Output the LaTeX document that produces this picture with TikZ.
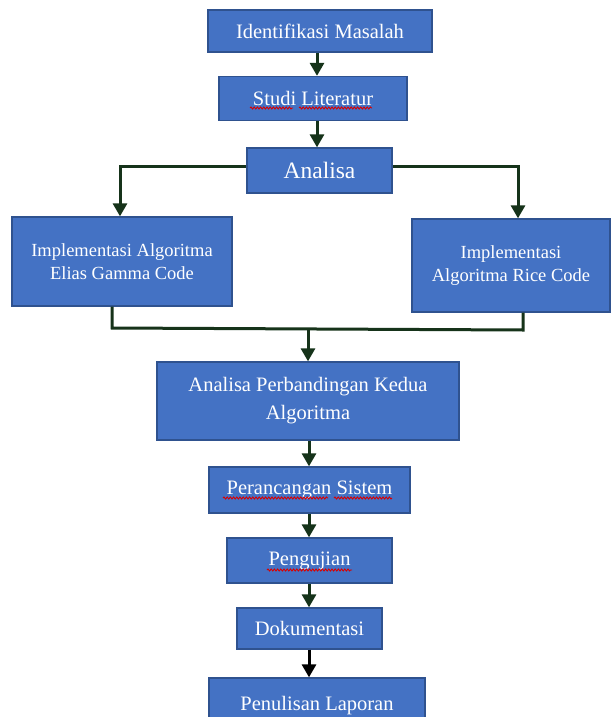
\documentclass[tikz,border=0pt]{standalone}
\usepackage{fontspec}
\setmainfont{Liberation Serif}
\usetikzlibrary{arrows.meta,decorations.pathmorphing}
\definecolor{boxfill}{HTML}{4472C4}
\definecolor{boxline}{HTML}{2F528F}
\definecolor{arrgreen}{HTML}{16331A}
\tikzset{
  box/.style={draw=boxline, line width=1.3pt, fill=boxfill, text=white, align=center, inner sep=0pt, font=\fontsize{20.5}{24}\selectfont},
  arr/.style={draw=arrgreen, line width=3pt, -{Triangle[width=14pt,length=13pt]}},
  conn/.style={draw=arrgreen, line width=3pt},
  squig/.style={draw=red!85!black, line width=0.9pt, decorate, decoration={snake, amplitude=1pt, segment length=3.2pt}}
}
\begin{document}
\begin{tikzpicture}[x=1pt,y=-1pt]
\useasboundingbox (0,0) rectangle (612,717);
\clip (0,0) rectangle (612,717);
\fill[white] (0,0) rectangle (612,717);
\node[box, minimum width=224pt, minimum height=42pt] (ident) at (320,31) {Identifikasi Masalah};
\node[box, minimum width=188pt, minimum height=44pt] (studi) at (313,98.5) {Studi Literatur};
\node[box, minimum width=145pt, minimum height=45pt, font=\fontsize{23.5}{27}\selectfont] (analisa) at (319.5,170.5) {Analisa};
\node[box, minimum width=220pt, minimum height=89pt, font=\fontsize{18.5}{22.5}\selectfont] (elias) at (122,261.5) {Implementasi Algoritma\\Elias Gamma Code};
\node[box, minimum width=198pt, minimum height=93pt, font=\fontsize{18.5}{22.5}\selectfont] (rice) at (511,265.5) {Implementasi\\Algoritma Rice Code};
\node[box, minimum width=302pt, minimum height=78pt, font=\fontsize{20.5}{28}\selectfont] (perb) at (308,401) {Analisa Perbandingan Kedua\\Algoritma};
\node[box, minimum width=201pt, minimum height=46pt] (peranc) at (309.5,490) {Perancangan Sistem};
\node[box, minimum width=165pt, minimum height=45pt] (peng) at (309.5,560.5) {Pengujian};
\node[box, minimum width=145pt, minimum height=41pt] (dok) at (309.5,628.5) {Dokumentasi};
\node[box, minimum width=216pt, minimum height=56pt] (penul) at (317,706) {Penulisan Laporan};

% spell-check squiggles
\draw[squig] (250,108) -- (293,108);
\draw[squig] (299,108) -- (372,108);
\draw[squig] (223,498) -- (328,498);
\draw[squig] (334,498) -- (392,498);
\draw[squig] (267,570) -- (352,570);

\coordinate (xa) at (317,0);
\coordinate (xl) at (120,0);
\coordinate (xr) at (518,0);
\coordinate (xel) at (112,0);
\coordinate (xri) at (523,0);
\coordinate (ml) at (112,328);
\coordinate (mr) at (523,330);
\coordinate (m) at (308,329);
\coordinate (xb) at (309,0);

\draw[arr] (ident.south -| xa) -- (studi.north -| xa);
\draw[arr] (studi.south -| xa) -- (analisa.north -| xa);
\draw[arr] ([yshift=4pt]analisa.west) -| (elias.north -| xl);
\draw[arr] ([yshift=4pt]analisa.east) -| (rice.north -| xr);
\draw[conn] (elias.south -| xel) -- (ml) -- (mr) -- (rice.south -| xri);
\draw[arr] (m) -- (perb.north -| m);
\draw[arr] (perb.south -| xb) -- (peranc.north -| xb);
\draw[arr] (peranc.south -| xb) -- (peng.north -| xb);
\draw[arr] (peng.south -| xb) -- (dok.north -| xb);
\draw[arr, draw=black] (dok.south -| xb) -- (penul.north -| xb);
\end{tikzpicture}
\end{document}
